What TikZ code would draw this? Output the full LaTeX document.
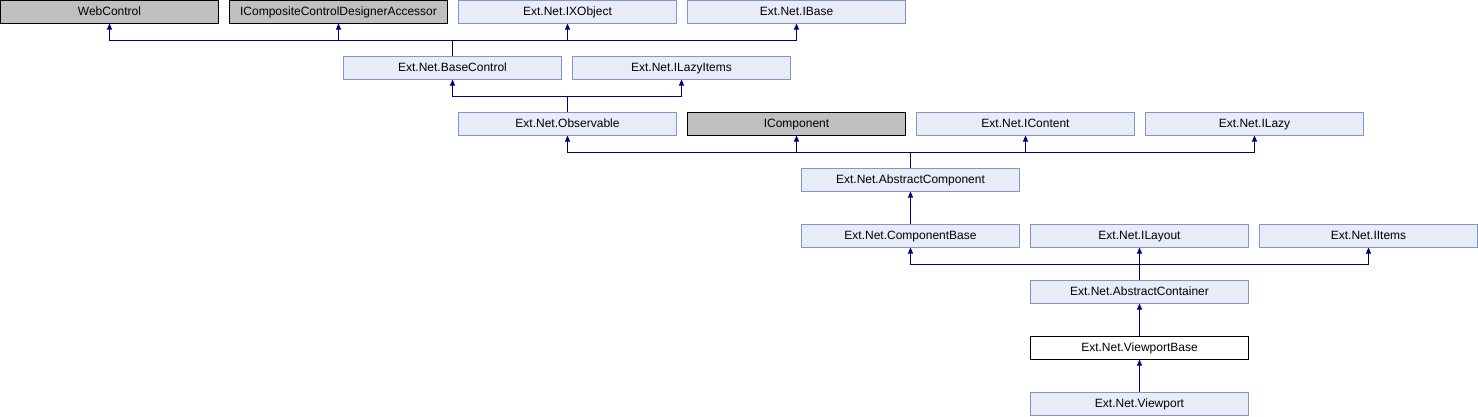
\documentclass[tikz,border=0pt]{standalone}
\usepackage{fontspec}
\setmainfont{Liberation Sans}
\usetikzlibrary{arrows.meta}
\definecolor{boxfill}{HTML}{E8ECF6}
\definecolor{boxline}{HTML}{7F96CC}
\definecolor{grayfill}{HTML}{BFBFBF}
\definecolor{edgecol}{HTML}{000080}
\begin{document}
\begin{tikzpicture}[x=1pt,y=-1pt,
  cls/.style={draw=boxline,fill=boxfill,line width=1pt,minimum width=218pt,minimum height=23pt,inner sep=0pt,text height=9pt,text depth=2pt,font=\fontsize{12}{14}\selectfont},
  ext/.style={cls,draw=black,fill=grayfill},
  cur/.style={cls,draw=black,fill=white},
  link/.style={draw=edgecol,line width=1pt},
  inh/.style={link,-{Triangle[length=6pt,width=5pt]}}]
\useasboundingbox (0,0) rectangle (1478,416);
% row 1
\node[ext] (web) at (109.5,11.5) {WebControl};
\node[ext] (icc) at (338.5,11.5) {ICompositeControlDesignerAccessor};
\node[cls] (ixo) at (567.5,11.5) {Ext.Net.IXObject};
\node[cls] (ibase) at (796.5,11.5) {Ext.Net.IBase};
% row 2
\node[cls] (bc) at (452.5,67.5) {Ext.Net.BaseControl};
\node[cls] (ili) at (681.5,67.5) {Ext.Net.ILazyItems};
% row 3
\node[cls] (obs) at (567.5,123.5) {Ext.Net.Observable};
\node[ext] (icomp) at (796.5,123.5) {IComponent};
\node[cls] (icont) at (1025.5,123.5) {Ext.Net.IContent};
\node[cls] (ilazy) at (1254.5,123.5) {Ext.Net.ILazy};
% row 4
\node[cls] (ac) at (910.5,179.5) {Ext.Net.AbstractComponent};
% row 5
\node[cls] (cb) at (910.5,235.5) {Ext.Net.ComponentBase};
\node[cls] (ilay) at (1139.5,235.5) {Ext.Net.ILayout};
\node[cls] (iitems) at (1368.5,235.5) {Ext.Net.IItems};
% row 6
\node[cls] (acont) at (1139.5,291.5) {Ext.Net.AbstractContainer};
% row 7
\node[cur] (vpb) at (1139.5,347.5) {Ext.Net.ViewportBase};
% row 8
\node[cls] (vp) at (1139.5,403.5) {Ext.Net.Viewport};
% junctions
\coordinate (j1) at (452.5,40);
\coordinate (j2) at (567.5,96);
\coordinate (j3) at (910.5,152);
\coordinate (j4) at (1139.5,264);
% BaseControl
\draw[link] (bc.north) -- (j1);
\foreach \p in {web,icc,ixo,ibase} \draw[inh] (j1) -| (\p.south);
% Observable
\draw[link] (obs.north) -- (j2);
\foreach \p in {bc,ili} \draw[inh] (j2) -| (\p.south);
% AbstractComponent
\draw[link] (ac.north) -- (j3);
\foreach \p in {obs,icomp,icont,ilazy} \draw[inh] (j3) -| (\p.south);
% ComponentBase
\draw[inh] (cb.north) -- (ac.south);
% AbstractContainer
\draw[link] (acont.north) -- (j4);
\foreach \p in {cb,ilay,iitems} \draw[inh] (j4) -| (\p.south);
% Viewport chain
\draw[inh] (vpb.north) -- (acont.south);
\draw[inh] (vp.north) -- (vpb.south);
\end{tikzpicture}
\end{document}
